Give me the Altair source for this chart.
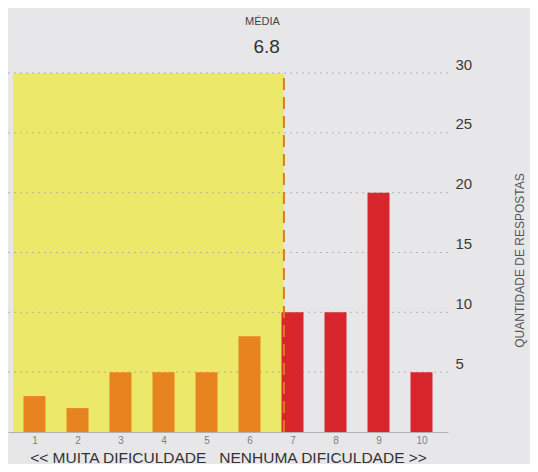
import altair as alt
import pandas as pd

# Data
notas = [1, 2, 3, 4, 5, 6, 7, 8, 9, 10]
respostas = [3, 2, 5, 5, 5, 8, 10, 10, 20, 5]
grupos = ["baixa", "baixa", "baixa", "baixa", "baixa", "baixa", "alta", "alta", "alta", "alta"]
media = 6.8
y_ticks = [5, 10, 15, 20, 25, 30]

FONT = "Liberation Sans"
NB = "\u00a0"

df = pd.DataFrame({"nota": notas, "respostas": respostas, "grupo": grupos})
df_media = pd.DataFrame({"nota": [0.5], "x1": [media], "respostas": [0], "y1": [30]})
df_grid = pd.DataFrame({"respostas": y_ticks})

xscale = alt.Scale(domain=[0.5, 10.5], nice=False, zero=False)
yscale = alt.Scale(domain=[0, 30], nice=False)

xaxis = alt.Axis(
    values=notas,
    title="<< MUITA DIFICULDADE" + NB * 3 + "NENHUMA DIFICULDADE >>",
    titleFont=FONT,
    titleFontSize=15.5,
    titleFontWeight="normal",
    titleColor="#333333",
    titlePadding=5,
    labelFont=FONT,
    labelFontSize=10,
    labelColor="#808080",
    labelPadding=3,
    ticks=False,
    grid=False,
    domainColor="#b0b0b0",
    domainWidth=1,
)
yaxis = alt.Axis(
    orient="right",
    values=y_ticks,
    title="QUANTIDADE DE RESPOSTAS",
    titleFont=FONT,
    titleFontSize=12,
    titleFontWeight="normal",
    titleColor="#555555",
    titleAngle=270,
    titleX=71,
    titleY=187,
    titleAlign="center",
    titleBaseline="middle",
    labelFont=FONT,
    labelFontSize=15,
    labelColor="#3a3a3a",
    labelPadding=7,
    labelBaseline="bottom",
    labelOffset=-1,
    ticks=False,
    grid=False,
    domain=False,
)

X = alt.X("nota:Q", scale=xscale, axis=xaxis)
Y = alt.Y("respostas:Q", scale=yscale, axis=yaxis)

area = alt.Chart(df_media).mark_rect(color="#ebe86a").encode(
    x=X, x2="x1:Q", y=Y, y2="y1:Q",
)

grid = alt.Chart(df_grid).mark_rule(color="#a8a8a8", strokeDash=[2, 4], strokeWidth=1, opacity=0.8).encode(
    y=Y,
    x=alt.value(0),
    x2=alt.value(441),
)

bars = alt.Chart(df).mark_bar(size=22).encode(
    x=X,
    y=Y,
    color=alt.Color(
        "grupo:N",
        scale=alt.Scale(domain=["baixa", "alta"], range=["#e8841f", "#d8262c"]),
        legend=None,
    ),
)

df_line = pd.DataFrame({"nota": [media], "respostas": [0], "y1": [30]})
line = alt.Chart(df_line).mark_rule(color="#e07a22", strokeWidth=2, strokeDash=[12, 7]).encode(
    x=X, y=Y, y2="y1:Q",
)

df_txt = pd.DataFrame({"nota": [media], "rotulo": ["MÉDIA"], "valor": ["6.8"]})
txt_label = alt.Chart(df_txt).mark_text(
    font=FONT, fontSize=11, color="#444444", align="right", baseline="middle", dx=-4
).encode(
    x=X,
    y=alt.value(-51),
    text="rotulo:N",
)
txt_val = alt.Chart(df_txt).mark_text(
    font=FONT, fontSize=19, color="#333333", align="right", baseline="middle", dx=-4
).encode(
    x=X,
    y=alt.value(-26),
    text="valor:N",
)

chart = (
    alt.layer(area, grid, bars, line, txt_label, txt_val)
    .properties(
        width=440,
        height=359,
        autosize=alt.AutoSizeParams(type="none"),
        padding={"left": 0, "top": 65, "right": 82, "bottom": 32},
        background="#e7e7e9",
    )
    .configure_view(stroke=None)
)

chart.save("out.html", embed_options={"renderer": "svg", "actions": False})
